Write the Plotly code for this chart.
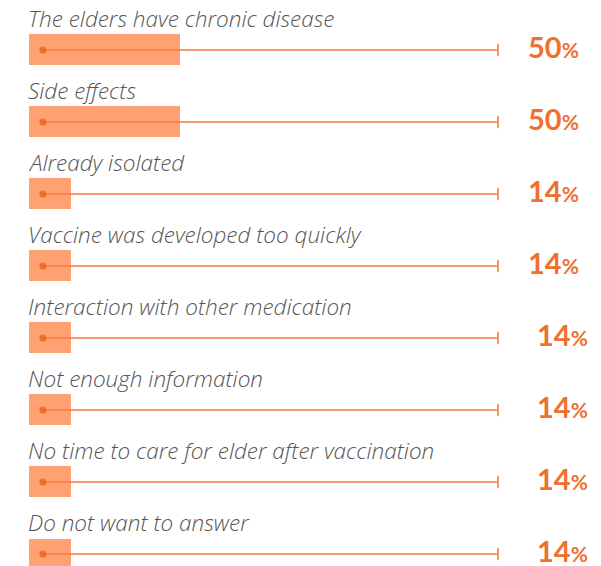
import plotly.graph_objects as go

# Survey answers: reasons for not vaccinating the elder
reasons = [
    "The elders have chronic disease",
    "Side effects",
    "Already isolated",
    "Vaccine was developed too quickly",
    "Interaction with other medication",
    "Not enough information",
    "No time to care for elder after vaccination",
    "Do not want to answer",
]
shares = [50, 50, 14, 14, 14, 14, 14, 14]

BAR_COLOR = "#FFA273"
TRACK_COLOR = "#F47B3E"
DOT_COLOR = "#F26B2A"
VALUE_COLOR = "#F07030"
LABEL_COLOR = "#555555"

TRACK_START = 4.6
TRACK_END = 155.3

rows = list(range(len(reasons)))

fig = go.Figure()

fig.add_trace(go.Bar(
    x=shares, y=rows, orientation="h", base=0, width=0.43,
    marker=dict(color=BAR_COLOR, line=dict(width=0)),
    hoverinfo="skip", showlegend=False,
))

# thin track line for each row
track_x, track_y = [], []
for r in rows:
    track_x += [TRACK_START, TRACK_END, None]
    track_y += [r, r, None]
fig.add_trace(go.Scatter(
    x=track_x, y=track_y, mode="lines",
    line=dict(color=TRACK_COLOR, width=1.5),
    hoverinfo="skip", showlegend=False,
))
fig.add_trace(go.Scatter(
    x=[TRACK_START] * len(rows), y=rows, mode="markers",
    marker=dict(color=DOT_COLOR, size=7),
    hoverinfo="skip", showlegend=False,
))
fig.add_trace(go.Scatter(
    x=[TRACK_END] * len(rows), y=rows, mode="markers",
    marker=dict(symbol="line-ns", size=9, line=dict(color=TRACK_COLOR, width=1.5)),
    hoverinfo="skip", showlegend=False,
))

annotations = []
for r, (name, val) in enumerate(zip(reasons, shares)):
    annotations.append(dict(
        x=0, y=r - 0.44, xref="x", yref="y", xanchor="left", yanchor="middle",
        xshift=-3,
        text=name, showarrow=False,
        font=dict(family="Open Sans", size=22.5, color=LABEL_COLOR,
                  style="italic", weight=300),
    ))
    annotations.append(dict(
        x=164.6 if r < 4 else 167.6, y=r, xref="x", yref="y",
        xanchor="left", yanchor="middle", showarrow=False, yshift=3,
        text=f"<b>{val}</b><span style='font-size:21px'><b>%</b></span>",
        font=dict(family="Lato", size=29, color=VALUE_COLOR),
    ))

fig.update_layout(
    width=601, height=566,
    margin=dict(l=0, r=0, t=0, b=0),
    paper_bgcolor="white", plot_bgcolor="white",
    annotations=annotations,
    xaxis=dict(range=[-9.6, 189.4], visible=False, fixedrange=True),
    yaxis=dict(range=[7.167, -0.694], visible=False, fixedrange=True),
    bargap=0,
)

fig.write_html("out.html")
